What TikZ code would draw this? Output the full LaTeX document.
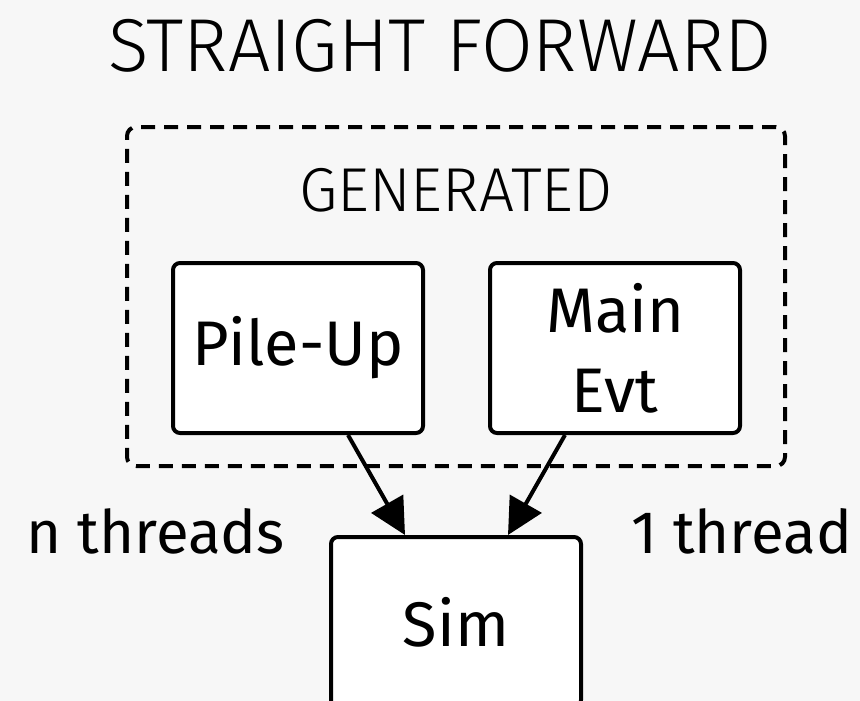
\documentclass[tikz,border=0pt]{standalone}
\usepackage{fontspec}
\setmainfont{Fira Sans}
\newfontfamily\thinfont{Fira Sans Light}
\usetikzlibrary{arrows.meta, positioning}
\definecolor{bgfill}{RGB}{247,247,247}
\tikzset{
  box/.style={rectangle, rounded corners=7pt, draw=black, line width=4pt, fill=white,
              minimum width=250pt, minimum height=170pt, align=center, inner sep=0pt,
              font=\fontsize{63}{80}\selectfont},
  grpbox/.style={rectangle, rounded corners=9pt, draw=black, line width=4pt,
                 dash pattern=on 14pt off 9pt, minimum width=658pt, minimum height=339pt},
  hdr/.style={inner sep=0pt, font=\thinfont\fontsize{75}{80}\selectfont},
  subhdr/.style={inner sep=0pt, font=\thinfont\fontsize{62}{70}\selectfont},
  lbl/.style={inner sep=0pt, font=\fontsize{60}{70}\selectfont},
  arr/.style={-{Triangle[length=36pt, width=36pt]}, line width=4pt}
}

\begin{document}
\begin{tikzpicture}[x=1pt, y=-1pt]
\fill[bgfill] (0,0) rectangle (860,701);
\useasboundingbox (0,0) rectangle (860,701);
\node[hdr, anchor=base] (title) at (440,72) {STRAIGHT FORWARD};
\node[grpbox] (gen) at (456,296.5) {};
\node[subhdr, anchor=base] (genlbl) at (456,211) {GENERATED};
\node[box] (pile) at (298,348) {Pile-Up};
\node[box, right=63pt of pile] (main) {Main\\Evt};
\node[box] (sim) at (456,622) {Sim};
\node[lbl, anchor=base east] (nthr) at ([xshift=-44pt, yshift=-18pt]sim.north west) {n threads};
\node[lbl, anchor=base west] (onethr) at ([xshift=48pt, yshift=-18pt]sim.north east) {1 thread};
\draw[arr] ([xshift=50pt]pile.south) -- ([xshift=-51pt]sim.north);
\draw[arr] ([xshift=-50pt]main.south) -- ([xshift=52pt]sim.north);
\end{tikzpicture}
\end{document}
